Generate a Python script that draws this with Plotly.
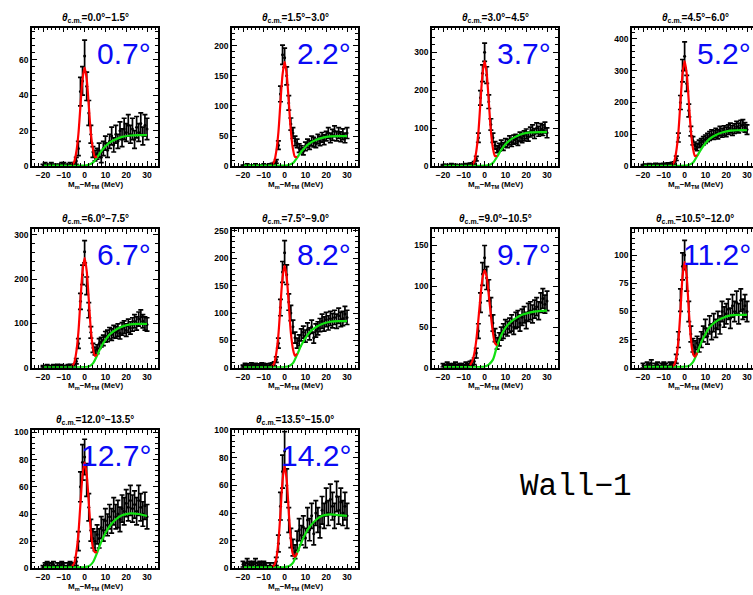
import plotly.graph_objects as go

W, H = 753, 595

# ---------------- data ----------------
bin_x = [-20, -19, -18, -17, -16, -15, -14, -13, -12, -11, -10, -9, -8, -7, -6,
         -5, -4, -3, -2, -1, 0, 1, 2, 3, 4, 5, 6, 7, 8, 9, 10,
         11, 12, 13, 14, 15, 16, 17, 18, 19, 20, 21, 22, 23, 24, 25, 26, 27, 28, 29, 30]

counts_p1 = [0, 1, 0, 0, 1, 0, 0, 0, 0, 1, 1, 0, 0, 1, 0,
             1, 3, 10, 42, 48, 62, 45, 30, 18, 8, 6, 7, 9, 5, 10, 13,
             9, 14, 17, 12, 18, 14, 20, 16, 21, 19, 23, 18, 21, 15, 22, 19, 24, 17, 23, 21]
errs_p1 = [1, 1, 1, 1, 1, 1, 1, 1, 1, 1, 1, 1, 1, 1, 1,
           1, 2, 4, 8, 8, 9, 8, 7, 5, 3, 3, 3, 4, 3, 4, 4,
           4, 4, 5, 4, 5, 4, 5, 5, 6, 5, 6, 5, 6, 5, 6, 5, 6, 5, 6, 6]

counts_p2 = [1, 0, 2, 1, 0, 1, 2, 1, 0, 1, 2, 1, 1, 2, 3,
             4, 8, 35, 120, 185, 180, 150, 105, 70, 55, 42, 38, 30, 28, 25, 33,
             38, 35, 42, 40, 38, 45, 42, 48, 44, 50, 55, 47, 52, 58, 50, 55, 49, 53, 47, 55]
errs_p2 = [1, 1, 2, 1, 1, 1, 2, 1, 1, 1, 2, 1, 1, 2, 2,
           2, 3, 7, 13, 16, 16, 15, 12, 10, 9, 8, 7, 7, 6, 6, 7,
           7, 7, 8, 8, 7, 8, 8, 8, 8, 8, 9, 8, 9, 9, 8, 9, 8, 9, 8, 9]

counts_p3 = [2, 3, 1, 2, 4, 2, 3, 1, 2, 3, 2, 4, 3, 5, 6,
             8, 20, 75, 180, 245, 300, 240, 170, 110, 75, 55, 45, 50, 58, 52, 62,
             60, 68, 63, 70, 72, 66, 78, 74, 80, 85, 78, 90, 95, 86, 100, 92, 98, 95, 102, 88]
errs_p3 = [2, 2, 1, 2, 3, 2, 2, 1, 2, 2, 2, 3, 2, 3, 3,
           4, 6, 12, 19, 22, 24, 22, 18, 15, 12, 10, 9, 10, 11, 10, 11,
           11, 12, 11, 12, 12, 11, 12, 12, 13, 13, 12, 13, 14, 13, 14, 13, 14, 14, 14, 13]

counts_p4 = [3, 4, 2, 5, 3, 4, 6, 3, 5, 4, 6, 5, 7, 6, 8,
             10, 25, 90, 200, 300, 345, 260, 175, 110, 80, 65, 60, 70, 75, 80, 85,
             90, 95, 100, 98, 105, 100, 110, 105, 112, 108, 115, 120, 112, 118, 125, 120, 128, 130, 122, 115]
errs_p4 = [2, 3, 2, 3, 2, 3, 3, 2, 3, 3, 3, 3, 4, 3, 4,
           4, 7, 14, 22, 35, 45, 25, 20, 15, 13, 11, 11, 12, 12, 13, 13,
           13, 14, 14, 14, 14, 14, 15, 14, 15, 15, 15, 15, 15, 15, 16, 15, 16, 16, 15, 15]

counts_p5 = [3, 2, 4, 3, 2, 4, 3, 5, 3, 4, 2, 3, 4, 5, 3,
             5, 15, 55, 150, 210, 262, 185, 130, 80, 45, 38, 42, 55, 58, 62, 70,
             72, 78, 75, 82, 80, 85, 78, 88, 92, 85, 95, 90, 98, 105, 100, 110, 115, 105, 100, 98]
errs_p5 = [2, 2, 3, 2, 2, 3, 2, 3, 2, 3, 2, 2, 3, 3, 2,
           3, 6, 11, 18, 22, 25, 20, 17, 13, 10, 9, 10, 11, 11, 12, 12,
           13, 13, 13, 14, 13, 14, 13, 14, 14, 14, 15, 14, 15, 15, 15, 16, 16, 15, 15, 15]

counts_p6 = [3, 5, 4, 3, 6, 4, 5, 3, 4, 6, 5, 4, 3, 5, 6,
             7, 15, 45, 110, 175, 210, 170, 120, 100, 75, 55, 45, 50, 60, 65, 58,
             70, 62, 75, 55, 68, 72, 78, 85, 80, 88, 82, 90, 86, 92, 85, 95, 88, 90, 98, 92]
errs_p6 = [2, 3, 3, 2, 3, 3, 3, 2, 3, 3, 3, 3, 2, 3, 3,
           4, 5, 9, 15, 19, 22, 18, 15, 14, 12, 10, 9, 10, 11, 11, 11,
           12, 11, 12, 10, 12, 12, 12, 13, 13, 13, 13, 13, 13, 13, 13, 14, 13, 13, 14, 13]

counts_p7 = [3, 2, 4, 3, 2, 3, 4, 2, 3, 3, 2, 4, 3, 5, 6,
             8, 18, 45, 80, 115, 135, 110, 95, 75, 55, 40, 30, 35, 42, 45, 50,
             48, 52, 55, 50, 58, 60, 55, 62, 65, 58, 68, 70, 66, 72, 75, 70, 80, 85, 78, 82]
errs_p7 = [2, 2, 3, 2, 2, 2, 3, 2, 2, 2, 2, 3, 2, 3, 3,
           4, 6, 9, 12, 14, 15, 14, 13, 11, 10, 8, 7, 8, 8, 9, 9,
           9, 9, 10, 9, 10, 10, 10, 10, 10, 10, 11, 11, 11, 11, 11, 11, 12, 12, 11, 12]

counts_p8 = [2, 1, 3, 2, 4, 1, 2, 3, 1, 2, 3, 2, 1, 3, 2,
             3, 8, 25, 60, 90, 100, 80, 50, 30, 20, 18, 22, 20, 25, 30, 35,
             28, 38, 32, 40, 35, 42, 38, 50, 45, 48, 52, 44, 55, 50, 58, 48, 60, 52, 55, 50]
errs_p8 = [2, 1, 2, 2, 3, 1, 2, 2, 1, 2, 2, 2, 1, 2, 2,
           2, 4, 7, 10, 12, 13, 12, 9, 7, 6, 6, 6, 6, 7, 7, 8,
           7, 8, 7, 8, 8, 8, 8, 9, 9, 9, 9, 9, 10, 9, 10, 9, 10, 9, 10, 9]

counts_p9 = [1, 2, 3, 2, 2, 3, 1, 2, 2, 3, 2, 1, 2, 3, 2,
             2, 5, 20, 60, 78, 82, 65, 45, 28, 22, 20, 25, 22, 30, 28, 35,
             32, 38, 35, 42, 38, 40, 36, 44, 42, 48, 45, 50, 44, 47, 42, 50, 45, 40, 46, 38]
errs_p9 = [1, 2, 2, 2, 2, 2, 1, 2, 2, 2, 2, 1, 2, 2, 2,
           2, 3, 7, 11, 13, 13, 12, 10, 8, 7, 7, 7, 7, 8, 8, 9,
           8, 9, 9, 10, 9, 10, 9, 10, 10, 10, 10, 11, 10, 10, 10, 11, 10, 9, 10, 9]

counts_p10 = [3, 2, 4, 3, 2, 3, 4, 2, 3, 2, 3, 2, 1, 2, 1,
              2, 5, 18, 45, 70, 85, 60, 35, 22, 15, 12, 20, 28, 24, 30, 22,
              35, 28, 38, 25, 40, 35, 30, 42, 38, 48, 40, 50, 45, 38, 52, 42, 48, 40, 45, 38]
errs_p10 = [2, 2, 3, 2, 2, 2, 3, 2, 2, 2, 2, 2, 1, 2, 1,
            2, 3, 6, 10, 12, 14, 12, 9, 7, 6, 5, 7, 8, 7, 8, 7,
            9, 8, 9, 8, 9, 9, 8, 10, 9, 10, 9, 11, 10, 9, 11, 10, 10, 9, 10, 9]

red_x = [-6, -5, -4, -3, -2, -1, 0, 1, 2, 3, 4, 5, 6]
red_x_p7 = [-7, -6, -5, -4, -3, -2, -1, 0, 1, 2, 3, 4, 5, 6]
red_p1 = [0.8, 2.5, 8, 18, 34, 49, 55.5, 49, 34.3, 18.6, 9.7, 5.2, 5.5]
red_p2 = [2.7, 7.9, 25, 56, 106, 152, 173, 152.5, 107, 58, 29, 15.4, 15.7]
red_p3 = [3.8, 12, 39.5, 89, 169, 243, 276.5, 244, 171, 93, 47.5, 27, 27.8]
red_p4 = [4.8, 14.5, 47.5, 106.5, 201.5, 290.5, 330, 291.5, 204, 112, 57, 32, 35.3]
red_p5 = [3.5, 10.9, 35.6, 80, 152, 218, 248.5, 219, 154, 85, 44.6, 26.9, 30.5]
red_p6 = [2.9, 8.4, 26.9, 60, 114, 164, 186.5, 165, 116, 64, 34.4, 21.9, 25.9]
red_p7 = [3.4, 7.6, 17, 34, 59, 87, 110, 119.5, 111.5, 90, 64, 43, 30, 27.5]
red_p8 = [1.2, 2.8, 8.7, 23.8, 50.8, 80.8, 94, 81.2, 51.6, 26, 12.9, 10, 13.4]
red_p9 = [1.6, 3.9, 11.6, 25.4, 47.8, 68.6, 78, 69, 48.5, 27.4, 15.3, 11.8, 12.3]
red_p10 = [1.1, 2.3, 7, 19.1, 40.2, 63.4, 74, 63.8, 40.9, 20.8, 10.2, 8.5, 11.3]

green_x = [-20, -10, -2, 0, 2, 4, 6, 8, 10, 12, 15, 18, 22, 26, 30]
green_p1 = [0.3, 0.3, 0.3, 0.4, 0.8, 2, 5, 8.5, 11.2, 13.3, 15.2, 16.5, 17.3, 17.5, 17.5]
green_p2 = [1, 1, 1, 1.2, 2, 5, 14, 24, 32, 38, 43.5, 47, 49.5, 50, 50]
green_p3 = [1, 1, 1, 1.5, 3, 9, 25, 43, 58, 68, 78, 85, 89, 90, 90]
green_p4 = [1.5, 1.5, 1.5, 2, 4, 11, 32, 54, 72, 86, 98, 106, 112, 113, 113]
green_p5 = [1, 1, 1, 1.5, 3, 10, 28, 48, 63, 75, 86, 93, 98, 99, 99]
green_p6 = [1, 1, 1, 1.5, 3, 8.5, 24, 41, 54, 65, 74, 80, 84, 85, 85]
green_p7 = [1, 1, 1, 1.5, 4, 10, 27, 40, 49, 55, 61, 65, 68, 69.5, 70]
green_p8 = [0.8, 0.8, 0.8, 1, 1.6, 5, 13, 22.5, 30, 36, 41, 44, 46.5, 47, 47]
green_p9 = [0.8, 0.8, 0.8, 1, 1.5, 4.5, 11.5, 19.5, 26, 31, 36, 39, 40.5, 40, 38.5]
green_p10 = [0.8, 0.8, 0.8, 1, 1.5, 4, 11, 18.5, 25, 30, 35, 38, 39, 38.5, 38]

angle_titles = ["0.0°−1.5°", "1.5°−3.0°", "3.0°−4.5°", "4.5°−6.0°",
                "6.0°−7.5°", "7.5°−9.0°", "9.0°−10.5°", "10.5°−12.0°",
                "12.0°−13.5°", "13.5°−15.0°"]
angle_labels = ["0.7°", "2.2°", "3.7°", "5.2°", "6.7°", "8.2°", "9.7°", "11.2°", "12.7°", "14.2°"]
y_max = [78, 230, 365, 435, 313, 253, 170, 123, 102, 100.3]
y_dtick = [20, 50, 100, 100, 100, 50, 50, 25, 20, 20]
x_ticks = [-20, -10, 0, 10, 20, 30]

counts = [counts_p1, counts_p2, counts_p3, counts_p4, counts_p5,
          counts_p6, counts_p7, counts_p8, counts_p9, counts_p10]
errs = [errs_p1, errs_p2, errs_p3, errs_p4, errs_p5,
        errs_p6, errs_p7, errs_p8, errs_p9, errs_p10]
reds = [red_p1, red_p2, red_p3, red_p4, red_p5, red_p6, red_p7, red_p8, red_p9, red_p10]
greens = [green_p1, green_p2, green_p3, green_p4, green_p5,
          green_p6, green_p7, green_p8, green_p9, green_p10]

# ---------------- layout geometry (pixels) ----------------
col_left = [32, 232, 432, 632]
row_top = [23, 228, 432]
plot_w, plot_h = 126, 141
px_per_mev = 2.08
x_lo = -25.3

fig = go.Figure()
layout = dict(width=W, height=H, margin=dict(l=0, r=0, t=0, b=0),
              paper_bgcolor="white", plot_bgcolor="white", showlegend=False)
annotations = []

tickfont = dict(family="Liberation Sans", size=8.5, color="black", weight="bold")

for i in range(10):
    r, c = divmod(i, 4)
    n = i + 1
    sfx = "" if n == 1 else str(n)
    xa, ya = "x" + sfx, "y" + sfx
    x0 = col_left[c]
    x1 = min(x0 + plot_w, W)
    y0 = row_top[r]
    y1 = y0 + plot_h
    x_hi = x_lo + (x1 - x0) / px_per_mev

    fig.add_trace(go.Scatter(
        x=bin_x, y=counts[i], mode="markers",
        marker=dict(color="black", size=3),
        error_y=dict(type="data", array=errs[i], color="black", thickness=1.7, width=2.5),
        xaxis=xa, yaxis=ya, showlegend=False, hoverinfo="skip"))
    fig.add_trace(go.Scatter(
        x=green_x, y=greens[i], mode="lines",
        line=dict(color="#11E011", width=2.2, shape="spline", smoothing=0.8),
        xaxis=xa, yaxis=ya, showlegend=False, hoverinfo="skip"))
    fig.add_trace(go.Scatter(
        x=red_x_p7 if i == 6 else red_x, y=reds[i], mode="lines",
        line=dict(color="#FF0000", width=2.2, shape="spline", smoothing=0.8),
        xaxis=xa, yaxis=ya, showlegend=False, hoverinfo="skip"))

    common = dict(showline=True, linecolor="black", linewidth=1.6,
                  ticks="inside", ticklen=5, tickwidth=1.2, tickcolor="black",
                  showgrid=False, zeroline=False, tickfont=tickfont)
    layout["xaxis" + sfx] = dict(
        domain=[x0 / W, x1 / W], anchor=ya, range=[x_lo, x_hi],
        tickmode="array", tickvals=x_ticks, mirror="allticks",
        minor=dict(ticks="inside", dtick=2, tick0=0, ticklen=3, tickcolor="black", tickwidth=1),
        **common)
    layout["yaxis" + sfx] = dict(
        domain=[1 - y1 / H, 1 - y0 / H], anchor=xa, range=[0, y_max[i]],
        dtick=y_dtick[i], tick0=0, mirror=("allticks" if c < 3 else False),
        minor=dict(ticks="inside", dtick=y_dtick[i] / 5, tick0=0, ticklen=3,
                   tickcolor="black", tickwidth=1),
        **common)

    cx = (x0 + x0 + plot_w) / 2
    annotations.append(dict(
        text="<b><i>θ</i><sub>c.m.</sub>=" + angle_titles[i] + "</b>",
        x=cx / W, y=1 - (y0 - 10) / H, xref="paper", yref="paper",
        xanchor="center", yanchor="middle", showarrow=False,
        font=dict(family="Liberation Sans", size=10, color="black")))
    annotations.append(dict(
        text="<b>M<sub>m</sub>−M<sub>TM</sub> (MeV)</b>",
        x=cx / W, y=1 - (y1 + 19) / H, xref="paper", yref="paper",
        xanchor="center", yanchor="middle", showarrow=False,
        font=dict(family="Liberation Sans", size=8, color="black")))
    annotations.append(dict(
        text=angle_labels[i],
        x=(x0 + 121) / W, y=1 - (y0 + 26) / H, xref="paper", yref="paper",
        xanchor="right", yanchor="middle", showarrow=False,
        font=dict(family="Liberation Sans", size=30, color="#0A0AF5")))

annotations.append(dict(
    text="Wall−1", x=518 / W, y=1 - 490 / H, xref="paper", yref="paper",
    xanchor="left", yanchor="middle", showarrow=False,
    font=dict(family="Liberation Mono", size=31, color="black")))

layout["annotations"] = annotations
fig.update_layout(**layout)
fig.write_html("out.html")
